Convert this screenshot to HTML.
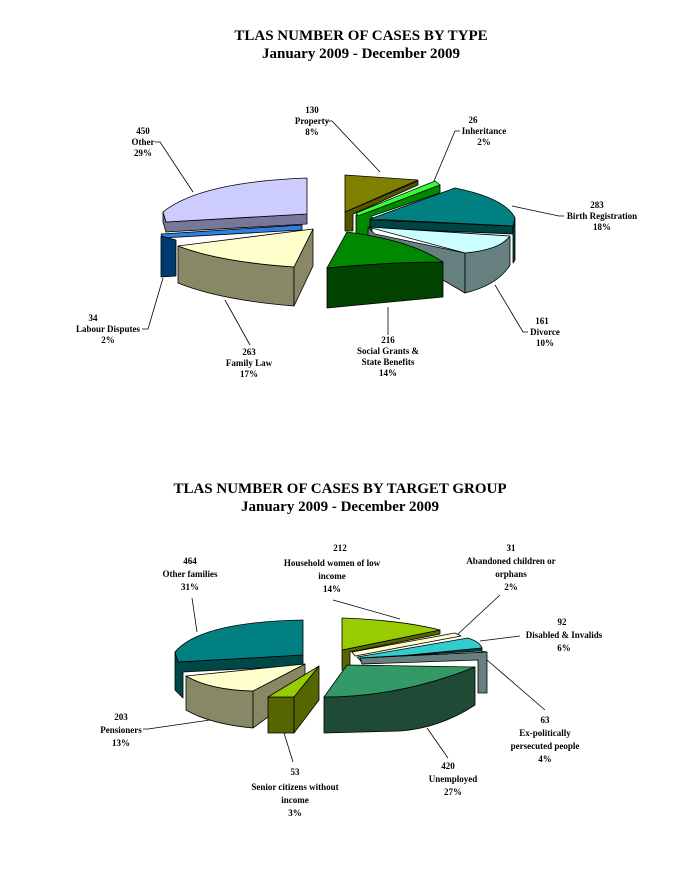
<!DOCTYPE html>
<html><head><style>
body{margin:0;background:#fff;width:684px;height:880px;overflow:hidden}
svg{display:block}
text{font-family:"Liberation Serif",serif;font-weight:bold;fill:#000}
.t{font-size:15px}
.l{font-size:9px}
path,polygon{stroke:#000;stroke-width:0.8;stroke-linejoin:round}
line,polyline{stroke:#000;stroke-width:0.8;fill:none}
</style></head><body>
<svg width="684" height="880" viewBox="0 0 684 880">
<text class="t" x="361" y="40" text-anchor="middle">TLAS NUMBER OF CASES BY TYPE</text>
<text class="t" x="361" y="58" text-anchor="middle">January 2009 - December 2009</text>

<!-- Chart 1 -->
<!-- Other -->
<path d="M163,212 L166,222 L307,214 L307,224 L166,232 L163,222 Z" fill="#777799"/>
<path d="M307,178 Q200,182 163,212 L166,222 L307,214 Z" fill="#ccccff"/>
<!-- Labour -->
<path d="M161,234 L302,225 L302,230 L163,238 Z" fill="#2f7fdf"/>
<path d="M161,236 L176,240 L176,276 L161,277 Z" fill="#003a70"/>
<!-- Family law -->
<path d="M178,246 L178,283 Q220,300 294,306 L294,267 Q220,262 178,246 Z" fill="#888866"/>
<path d="M294,267 L313,229 L313,266 L294,306 Z" fill="#888866"/>
<path d="M313,229 L178,246 Q220,262 294,267 Z" fill="#ffffcc"/>
<!-- Property -->
<path d="M345,212 L418,181 L418,185 L353,214 L353,231 L345,231 Z" fill="#555500"/>
<path d="M345,175 L418,180 L345,212 Z" fill="#808000"/>
<!-- Inheritance -->
<path d="M356,215 L440,185 L440,193 L372,216 L372,236 L356,236 Z" fill="#008800"/>
<path d="M356,213 L435,181 L440,185 L358,216 Z" fill="#33ff33"/>
<!-- Birth -->
<path d="M370,220 L513,226 L513,234 L370,228 Z" fill="#004444"/>
<path d="M513,226 L515,218 L515,260 L513,263 Z" fill="#004444"/>
<path d="M370,219 L455,188 Q505,198 515,218 L513,226 Z" fill="#008080"/>
<!-- Divorce -->
<path d="M368,228 L375,234 L465,253 L465,293 L368,236 Z" fill="#668080"/>
<path d="M465,253 L510,237 L510,265 Q498,285 465,293 Z" fill="#668080"/>
<path d="M368,227 L510,236 Q500,250 465,253 Z" fill="#ccffff"/>
<!-- Social grants -->
<path d="M327,268 Q390,262 443,262 L443,297 Q390,302 327,308 Z" fill="#004400"/>
<path d="M347,232 Q410,240 443,262 Q390,262 327,268 Z" fill="#008800"/>

<!-- labels chart1 -->
<text class="l" x="312" y="113" text-anchor="middle">130</text>
<text class="l" x="312" y="124" text-anchor="middle">Property</text>
<text class="l" x="312" y="135" text-anchor="middle">8%</text>
<polyline points="327,121 332,121 380,172"/>
<text class="l" x="473" y="123" text-anchor="middle">26</text>
<text class="l" x="484" y="134" text-anchor="middle">Inheritance</text>
<text class="l" x="484" y="145" text-anchor="middle">2%</text>
<polyline points="460,131 455,131 434,181"/>
<text class="l" x="143" y="134" text-anchor="middle">450</text>
<text class="l" x="143" y="145" text-anchor="middle">Other</text>
<text class="l" x="143" y="156" text-anchor="middle">29%</text>
<polyline points="155,142 160,142 193,192"/>
<text class="l" x="597" y="208" text-anchor="middle">283</text>
<text class="l" x="602" y="219" text-anchor="middle">Birth Registration</text>
<text class="l" x="602" y="230" text-anchor="middle">18%</text>
<polyline points="564,216 559,216 512,206"/>
<text class="l" x="93" y="321" text-anchor="middle">34</text>
<text class="l" x="108" y="332" text-anchor="middle">Labour Disputes</text>
<text class="l" x="108" y="343" text-anchor="middle">2%</text>
<polyline points="142,329 148,329 163,278"/>
<text class="l" x="542" y="324" text-anchor="middle">161</text>
<text class="l" x="545" y="335" text-anchor="middle">Divorce</text>
<text class="l" x="545" y="346" text-anchor="middle">10%</text>
<polyline points="528,332 523,332 495,285"/>
<text class="l" x="388" y="343" text-anchor="middle">216</text>
<text class="l" x="388" y="354" text-anchor="middle">Social Grants &amp;</text>
<text class="l" x="388" y="365" text-anchor="middle">State Benefits</text>
<text class="l" x="388" y="376" text-anchor="middle">14%</text>
<line x1="388" y1="335" x2="388" y2="307"/>
<text class="l" x="249" y="355" text-anchor="middle">263</text>
<text class="l" x="249" y="366" text-anchor="middle">Family Law</text>
<text class="l" x="249" y="377" text-anchor="middle">17%</text>
<line x1="250" y1="345" x2="225" y2="300"/>

<text class="t" x="340" y="493" text-anchor="middle">TLAS NUMBER OF CASES BY TARGET GROUP</text>
<text class="t" x="340" y="511" text-anchor="middle">January 2009 - December 2009</text>

<!-- Chart 2 -->
<!-- Other families -->
<path d="M175,652 L178,662 L303,655 L303,666 L183,672 L183,698 L175,690 Z" fill="#004848"/>
<path d="M303,620 Q200,622 175,652 L178,662 L303,655 Z" fill="#008080"/>
<!-- Pensioners -->
<path d="M186,676 L186,710 Q210,724 253,728 L253,691 Q210,690 186,676 Z" fill="#888866"/>
<path d="M253,691 L305,664 L305,690 L253,728 Z" fill="#888866"/>
<path d="M305,664 L186,676 Q210,690 253,691 Z" fill="#ffffcc"/>
<!-- Senior -->
<path d="M268,697 L294,697 L294,733 L268,733 Z" fill="#556600"/>
<path d="M294,697 L319,666 L319,700 L294,733 Z" fill="#556600"/>
<path d="M268,697 L319,666 L294,697 Z" fill="#99cc00"/>
<!-- Household -->
<path d="M342,650 L440,630 L440,634 L350,652 L350,670 L342,670 Z" fill="#556600"/>
<path d="M342,618 Q400,620 440,630 L342,650 Z" fill="#99cc00"/>
<!-- Abandoned -->
<path d="M352,652 L455,633 L461,636 L355,656 Z" fill="#ffffcc"/>
<!-- Disabled -->
<path d="M357,657 L468,638 Q480,642 482,648 L360,660 Z" fill="#33cccc"/>
<path d="M360,660 L482,648 L482,651 L362,663 Z" fill="#004848"/>
<!-- Ex-political -->
<path d="M360,658 L487,652 L487,693 L478,693 L478,660 L362,664 Z" fill="#668080"/>
<path d="M360,658 L480,651 L487,652 Z" fill="#ccffff"/>
<!-- Unemployed -->
<path d="M324,697 Q400,697 475,667 L475,705 Q440,728 400,731 L324,733 Z" fill="#1e4a36"/>
<path d="M347,665 L475,667 Q400,697 324,697 Z" fill="#339966"/>

<text class="l" x="340" y="551" text-anchor="middle">212</text>
<text class="l" x="332" y="566" text-anchor="middle">Household women of low</text>
<text class="l" x="332" y="579" text-anchor="middle">income</text>
<text class="l" x="332" y="592" text-anchor="middle">14%</text>
<line x1="333" y1="600" x2="400" y2="619"/>
<text class="l" x="511" y="551" text-anchor="middle">31</text>
<text class="l" x="511" y="564" text-anchor="middle">Abandoned children or</text>
<text class="l" x="511" y="577" text-anchor="middle">orphans</text>
<text class="l" x="511" y="590" text-anchor="middle">2%</text>
<polyline points="500,595 458,634"/>
<text class="l" x="190" y="564" text-anchor="middle">464</text>
<text class="l" x="190" y="577" text-anchor="middle">Other families</text>
<text class="l" x="190" y="590" text-anchor="middle">31%</text>
<line x1="192" y1="598" x2="197" y2="632"/>
<text class="l" x="562" y="625" text-anchor="middle">92</text>
<text class="l" x="564" y="638" text-anchor="middle">Disabled &amp; Invalids</text>
<text class="l" x="564" y="651" text-anchor="middle">6%</text>
<polyline points="520,636 480,641"/>
<text class="l" x="545" y="723" text-anchor="middle">63</text>
<text class="l" x="545" y="736" text-anchor="middle">Ex-politically</text>
<text class="l" x="545" y="749" text-anchor="middle">persecuted people</text>
<text class="l" x="545" y="762" text-anchor="middle">4%</text>
<line x1="545" y1="710" x2="487" y2="660"/>
<text class="l" x="121" y="720" text-anchor="middle">203</text>
<text class="l" x="121" y="733" text-anchor="middle">Pensioners</text>
<text class="l" x="121" y="746" text-anchor="middle">13%</text>
<polyline points="143,729 148,729 210,720"/>
<text class="l" x="448" y="769" text-anchor="middle">420</text>
<text class="l" x="453" y="782" text-anchor="middle">Unemployed</text>
<text class="l" x="453" y="795" text-anchor="middle">27%</text>
<line x1="448" y1="758" x2="427" y2="728"/>
<text class="l" x="295" y="775" text-anchor="middle">53</text>
<text class="l" x="295" y="790" text-anchor="middle">Senior citizens without</text>
<text class="l" x="295" y="803" text-anchor="middle">income</text>
<text class="l" x="295" y="816" text-anchor="middle">3%</text>
<line x1="293" y1="762" x2="284" y2="733"/>
</svg>
</body></html>
